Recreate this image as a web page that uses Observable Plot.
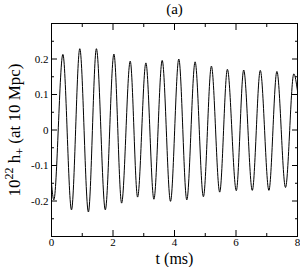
<!DOCTYPE html>
<html>
<head>
<meta charset="utf-8">
<script src="https://cdn.jsdelivr.net/npm/d3@7"></script>
<script src="https://cdn.jsdelivr.net/npm/@observablehq/plot@0.6"></script>
<style>
  html, body { margin: 0; padding: 0; background: #fff; }
</style>
</head>
<body>
<div id="chart"></div>
<script>
// Extrema of the waveform: time (ms) and 10^22 h+
const tTimes = [0, 0.075, 0.37, 0.65, 0.92, 1.20, 1.46, 1.75, 2.03, 2.28, 2.56, 2.80, 3.07, 3.33, 3.60, 3.87,
                4.14, 4.40, 4.67, 4.94, 5.20, 5.47, 5.72, 6.01, 6.25, 6.53, 6.79, 7.07, 7.33, 7.61, 7.88, 8.0];
const hValues = [-0.15, -0.197, 0.213, -0.225, 0.229, -0.231, 0.229, -0.225, 0.214, -0.206, 0.194, -0.189, 0.189, -0.195, 0.196, -0.201,
                 0.200, -0.197, 0.192, -0.188, 0.180, -0.175, 0.171, -0.171, 0.169, -0.170, 0.168, -0.170, 0.165, -0.162, 0.158, 0.11];

const xMajor = [0, 2, 4, 6, 8];
const xMinor = [1, 3, 5, 7];
const yMajor = [-0.2, -0.1, 0, 0.1, 0.2];
const yMinor = [-0.25, -0.15, -0.05, 0.05, 0.15, 0.25];

const titleText = "(a)";
const xLabel = "t (ms)";

const serif = "'Liberation Serif', 'DejaVu Serif', 'Times New Roman', serif";
const data = tTimes.map((t, i) => ({t, h: hValues[i]}));
const fmtY = d => d === 0 ? "0" : d.toFixed(1);

const chart = Plot.plot({
  width: 300,
  height: 267,
  marginTop: 23,
  marginRight: 3,
  marginBottom: 31,
  marginLeft: 51,
  style: {fontSize: "11px", background: "#fff", color: "#000"},
  x: {domain: [0, 8]},
  y: {domain: [-0.3, 0.3]},
  marks: [
    Plot.line(data, {x: "t", y: "h", curve: "monotone-x", stroke: "#000", strokeWidth: 1}),
    Plot.frame({stroke: "#000", strokeWidth: 1}),
    Plot.axisX({anchor: "bottom", ticks: xMajor, tickSize: -6, tickPadding: 8, tickFormat: d => String(d), label: null, fontSize: 11}),
    Plot.axisX({anchor: "bottom", ticks: xMinor, tickSize: -3, fill: "none", label: null}),
    Plot.axisX({anchor: "top", ticks: xMajor, tickSize: -6, fill: "none", label: null}),
    Plot.axisX({anchor: "top", ticks: xMinor, tickSize: -3, fill: "none", label: null}),
    Plot.axisY({anchor: "left", ticks: yMajor, tickSize: -6, tickPadding: 9, tickFormat: fmtY, label: null, fontSize: 11}),
    Plot.axisY({anchor: "left", ticks: yMinor, tickSize: -3, fill: "none", label: null}),
    Plot.axisY({anchor: "right", ticks: yMajor, tickSize: -6, fill: "none", label: null}),
    Plot.axisY({anchor: "right", ticks: yMinor, tickSize: -3, fill: "none", label: null}),
    Plot.text([titleText], {frameAnchor: "top", lineAnchor: "middle", dy: -14, fontSize: 15, fill: "#000"}),
    Plot.text([xLabel], {frameAnchor: "bottom", lineAnchor: "middle", dy: 22, fontSize: 16, fill: "#000"})
  ]
});

// y-axis label with superscript and subscript
const svg = d3.select(chart);
const yl = svg.append("text")
  .attr("transform", "translate(20,130) rotate(-90)")
  .attr("text-anchor", "middle")
  .attr("font-size", 17)
  .attr("fill", "#000");
yl.append("tspan").text("10");
yl.append("tspan").attr("dy", -7).attr("font-size", 12).text("22");
yl.append("tspan").attr("dy", 7).text(" h");
yl.append("tspan").attr("dy", 4).attr("font-size", 12).text("+");
yl.append("tspan").attr("dy", -4).text(" (at 10 Mpc)");

svg.selectAll("text").style("font-family", serif);

document.getElementById("chart").appendChild(chart);
</script>
</body>
</html>
